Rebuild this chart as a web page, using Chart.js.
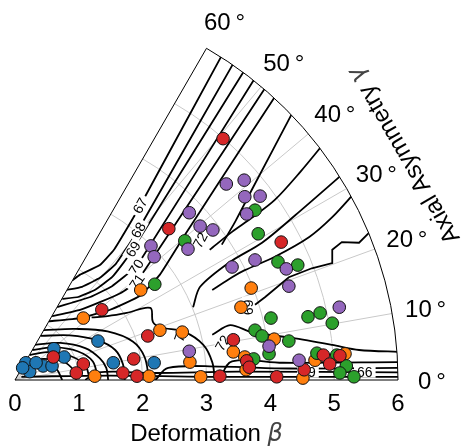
<!DOCTYPE html>
<html>
<head>
<meta charset="utf-8">
<script src="https://cdn.jsdelivr.net/npm/chart.js@4/dist/chart.umd.min.js"></script>
<style>
  html, body { margin: 0; padding: 0; background: #fff; }
  canvas { display: block; }
</style>
</head>
<body>
<canvas id="betaGamma" width="465" height="447"></canvas>
<script>
// tick values
const betaTicks = [0, 1, 2, 3, 4, 5, 6];
const gammaTicks = [0, 10, 20, 30, 40, 50, 60];

// nuclei in the beta-gamma plane, stored as (beta*cos(gamma), beta*sin(gamma))
const bluePts = [[1.30,0.61],[0.61,0.49],[0.77,0.36],[0.17,0.27],[0.23,0.13],[0.44,0.22],[0.58,0.22],[0.33,0.27],[1.54,0.27],[2.18,0.27],[0.12,0.19]];
const orangePts = [[1.07,0.97],[1.97,1.41],[2.27,0.78],[2.62,0.75],[2.74,0.28],[1.25,0.06],[2.10,0.06],[2.91,0.05],[3.70,1.44],[3.54,1.14],[3.42,0.44],[3.60,0.36],[3.62,0.16],[4.06,0.64],[4.70,0.31],[5.17,0.41],[4.51,0.03]];
const greenPts = [[2.19,1.50],[2.66,2.18],[3.76,2.66],[3.81,2.29],[4.12,1.85],[4.43,1.80],[4.01,0.97],[4.59,0.99],[4.78,1.05],[4.97,0.89],[3.76,0.78],[3.87,0.69],[4.29,0.61],[3.98,0.41],[3.74,0.33],[4.73,0.42],[5.04,0.39],[5.19,0.22],[5.09,0.11],[5.31,0.05]];
const redPts = [[3.26,3.78],[2.41,2.37],[4.17,2.16],[1.36,1.10],[2.08,0.69],[0.60,0.36],[1.07,0.25],[0.96,0.11],[1.86,0.33],[1.69,0.11],[1.91,0.06],[3.21,0.06],[3.42,0.63],[3.63,0.30],[3.67,0.20],[4.10,0.05],[4.53,0.16],[4.83,0.39],[4.93,0.25],[5.09,0.38]];
const purplePts = [[2.73,2.62],[2.90,2.41],[3.10,2.35],[2.13,2.10],[2.18,1.93],[2.71,2.05],[3.31,3.07],[3.59,3.13],[3.84,2.88],[3.60,2.87],[3.63,2.60],[3.76,1.88],[3.40,1.77],[4.25,1.74],[4.29,1.47],[5.08,1.14],[3.98,0.53],[4.45,0.31],[2.73,0.45]];

// energy contours, same coordinates
const upperLevels = [
  [[0.90,1.56],[1.02,1.65],[1.33,1.80],[1.55,2.04],[1.74,2.35],[1.96,2.73],[3.27,5.14]],
  [[0.81,1.41],[1.05,1.46],[1.33,1.60],[1.58,1.82],[1.77,2.10],[1.93,2.35],[3.45,5.01]],
  [[0.74,1.27],[0.99,1.30],[1.25,1.41],[1.52,1.61],[1.71,1.85],[1.85,2.05],[3.62,4.89]],
  [[0.66,1.14],[0.89,1.21],[1.18,1.30],[1.52,1.47],[1.75,1.65],[1.90,1.77],[3.78,4.76]],
  [[0.58,1.00],[1.02,1.10],[1.33,1.22],[1.65,1.36],[1.91,1.54],[3.95,4.62]],
  [[0.53,0.92],[1.02,0.97],[1.49,1.10],[1.96,1.32],[2.27,1.65],[2.66,2.27],[3.12,2.98],[4.10,4.48]],
  [[3.24,2.12],[3.45,2.48],[3.71,2.98],[4.37,4.23]]
];
const midLevels = [
  [[3.05,2.04],[3.40,2.32],[3.71,2.54],[4.07,2.82],[4.47,3.26],[4.85,3.72]],
  [[2.79,1.14],[2.90,1.46],[3.37,1.85],[3.87,2.15],[4.39,2.58],[5.15,3.24]],
  [[3.09,1.41],[3.40,1.61],[3.60,1.72],[4.07,1.93],[4.61,2.24],[4.97,2.55],[5.32,2.93]],
  [[3.09,0.71],[3.37,0.86],[3.71,0.75],[4.34,0.66],[4.97,0.55],[5.39,0.47],[6.05,0.44]]
];
const ridgeLevel = [[3.76,1.18],[3.92,1.30],[4.29,1.61],[4.65,1.75],[4.97,1.83],[4.97,2.04],[5.12,2.16],[5.39,2.15],[5.56,2.32],[5.72,2.44]];
const lowLoops = [
  [[0.11,0.19],[0.39,0.23],[0.63,0.19],[0.74,0.0]],
  [[0.17,0.29],[0.45,0.33],[0.75,0.29],[0.92,0.15],[0.96,0.0]],
  [[0.23,0.39],[0.55,0.44],[0.86,0.38],[1.10,0.23],[1.17,0.0]],
  [[0.27,0.47],[0.63,0.51],[0.98,0.45],[1.22,0.29],[1.30,0.0]],
  [[0.31,0.55],[0.71,0.58],[1.10,0.50],[1.33,0.34],[1.43,0.19],[1.46,0.0]],
  [[0.40,0.69],[0.86,0.70],[1.30,0.62],[1.57,0.47],[1.69,0.25],[1.72,0.0]],
  [[0.45,0.78],[0.95,0.80],[1.45,0.76],[1.85,0.60],[2.03,0.36],[2.10,0.0]],
  [[1.20,0.98],[1.45,1.00],[1.75,1.05],[2.12,1.13],[2.16,0.91],[2.27,0.83],[2.66,0.75],[2.95,0.55],[3.09,0.28],[3.13,0.0]]
];
const baseLevels = [
  [[0.10,0.05],[1.5,0.07],[3.0,0.05],[6.05,0.05]],
  [[1.10,0.0],[1.3,0.12],[2.2,0.11],[3.5,0.13],[6.05,0.12]],
  [[2.20,0.0],[2.4,0.19],[3.2,0.21],[4.3,0.18],[6.05,0.19]],
  [[3.20,0.0],[3.4,0.29],[4.2,0.27],[6.05,0.28]]
];
// inline contour labels: text, position, rotation (deg)
const contourTags = [
  ['67', 1.96, 2.73, -61], ['68', 1.93, 2.35, -60], ['69', 1.85, 2.05, -58],
  ['70', 1.90, 1.77, -57], ['71', 1.91, 1.54, -56], ['72', 2.90, 2.19, -62],
  ['72', 2.60, 0.72, -70], ['72', 3.25, 0.58, -60], ['69', 3.65, 1.14, 90],
  ['69', 4.59, 0.13, 0], ['66', 5.48, 0.13, 0]
];

const FONT = '"Liberation Sans", Arial, sans-serif';
let tagsDrawn = false;

function wedgePath(ctx, ox, oy, R) {
  ctx.beginPath();
  ctx.moveTo(ox, oy);
  ctx.lineTo(ox + R, oy);
  ctx.arc(ox, oy, R, 0, -Math.PI / 3, true);
  ctx.closePath();
}

function geom(chart) {
  const { x, y } = chart.scales;
  const ox = x.getPixelForValue(0), oy = y.getPixelForValue(0);
  const unit = x.getPixelForValue(1) - ox;
  return { ox, oy, unit, R: unit * betaTicks[betaTicks.length - 1] };
}

function polar(g, r, deg) {
  const a = deg * Math.PI / 180;
  return [g.ox + r * g.unit * Math.cos(a), g.oy - r * g.unit * Math.sin(a)];
}

const wedgePlugin = {
  id: 'wedge',
  beforeDatasetsDraw(chart) {
    const ctx = chart.ctx, g = geom(chart);
    ctx.save();
    ctx.strokeStyle = '#c9c9c9';
    ctx.lineWidth = 1;
    betaTicks.slice(1, -1).forEach(b => {
      ctx.beginPath();
      ctx.arc(g.ox, g.oy, b * g.unit, -Math.PI / 3, 0);
      ctx.stroke();
    });
    gammaTicks.slice(1, -1).forEach(d => {
      const [px, py] = polar(g, 6, d);
      ctx.beginPath();
      ctx.moveTo(g.ox, g.oy);
      ctx.lineTo(px, py);
      ctx.stroke();
    });
    ctx.restore();
    tagsDrawn = false;
  },
  beforeDatasetDraw(chart, args) {
    const ctx = chart.ctx, g = geom(chart);
    const ds = chart.data.datasets[args.index];
    if (ds.contour) {
      ctx.save();
      wedgePath(ctx, g.ox, g.oy, g.R);
      ctx.clip();
    } else if (!tagsDrawn) {
      tagsDrawn = true;
      // contour labels sit in small breaks of their lines
      ctx.save();
      ctx.font = '14px ' + FONT;
      ctx.textAlign = 'center';
      ctx.textBaseline = 'middle';
      contourTags.forEach(([t, cx, cy, rot]) => {
        const px = chart.scales.x.getPixelForValue(cx);
        const py = chart.scales.y.getPixelForValue(cy);
        const w = ctx.measureText(t).width;
        ctx.save();
        ctx.translate(px, py);
        ctx.rotate(rot * Math.PI / 180);
        ctx.fillStyle = '#fff';
        ctx.fillRect(-w / 2 - 3, -6, w + 6, 12);
        ctx.fillStyle = '#000';
        ctx.fillText(t, 0, 1);
        ctx.restore();
      });
      ctx.strokeStyle = '#000';
      ctx.lineWidth = 1;
      wedgePath(ctx, g.ox, g.oy, g.R);
      ctx.stroke();
      ctx.restore();
    }
  },
  afterDatasetDraw(chart, args) {
    if (chart.data.datasets[args.index].contour) chart.ctx.restore();
  },
  afterDraw(chart) {
    const ctx = chart.ctx, g = geom(chart);
    ctx.save();
    ctx.fillStyle = '#000';
    ctx.font = '24px ' + FONT;
    ctx.textAlign = 'center';
    ctx.textBaseline = 'alphabetic';
    betaTicks.forEach(b => {
      ctx.fillText(String(b), chart.scales.x.getPixelForValue(b), g.oy + 31);
    });
    gammaTicks.forEach(d => {
      const [px, py] = polar(g, 6.5, d);
      ctx.fillText(d + '\u2009\u00b0', px + 2, py + 9);
    });

    // x title
    const main = 'Deformation ', sym = '\u03b2';
    ctx.font = '24px ' + FONT;
    const w1 = ctx.measureText(main).width;
    ctx.font = 'italic 24px "DejaVu Sans"';
    const w2 = ctx.measureText(sym).width;
    let sx = chart.scales.x.getPixelForValue(3) - (w1 + w2) / 2;
    ctx.textAlign = 'left';
    ctx.font = '24px ' + FONT;
    ctx.fillText(main, sx, g.oy + 61);
    ctx.font = 'italic 24px "DejaVu Sans"';
    ctx.fillStyle = '#444';
    ctx.fillText(sym, sx + w1, g.oy + 61);

    // gamma title, tangent to the arc at 30 degrees
    const [tx, ty] = polar(g, 7.05, 30);
    ctx.translate(tx, ty);
    ctx.rotate(-120 * Math.PI / 180);
    const m2 = 'Axial Asymmetry ', s2 = '\u03b3';
    ctx.font = '24px ' + FONT;
    const a1 = ctx.measureText(m2).width;
    ctx.font = 'italic 24px "DejaVu Sans"';
    const a2 = ctx.measureText(s2).width;
    ctx.textBaseline = 'middle';
    ctx.font = '24px ' + FONT;
    ctx.fillStyle = '#000';
    ctx.fillText(m2, -(a1 + a2) / 2, 0);
    ctx.font = 'italic 24px "DejaVu Sans"';
    ctx.fillStyle = '#444';
    ctx.fillText(s2, -(a1 + a2) / 2 + a1, 0);
    ctx.restore();
  }
};

const toXY = pts => pts.map(([x, y]) => ({ x, y }));

function contourSet(lines, tension) {
  return lines.map(l => ({
    data: toXY(l),
    contour: true,
    showLine: true,
    pointRadius: 0,
    borderColor: '#000',
    borderWidth: 1.8,
    tension,
    clip: false,
    order: 10
  }));
}

function pointSet(pts, color, order) {
  return {
    data: toXY(pts),
    backgroundColor: color,
    borderColor: '#111',
    borderWidth: 1,
    pointRadius: 6.3,
    clip: false,
    order
  };
}

new Chart(document.getElementById('betaGamma'), {
  type: 'scatter',
  data: {
    datasets: [
      pointSet(purplePts, '#9467bd', 0),
      pointSet(redPts, '#d62728', 1),
      pointSet(greenPts, '#2ca02c', 2),
      pointSet(orangePts, '#ff7f0e', 3),
      pointSet(bluePts, '#1f77b4', 4),
      ...contourSet(upperLevels, 0.12),
      ...contourSet(midLevels, 0.3),
      ...contourSet([ridgeLevel], 0),
      ...contourSet(lowLoops, 0.35),
      ...contourSet(baseLevels, 0.35)
    ]
  },
  options: {
    responsive: false,
    devicePixelRatio: 1,
    animation: false,
    events: [],
    layout: { padding: { left: 15, right: 67, top: 48, bottom: 67 } },
    scales: {
      x: { type: 'linear', min: 0, max: 6, display: false },
      y: { type: 'linear', min: 0, max: 5.2, display: false }
    },
    plugins: { legend: { display: false }, tooltip: { enabled: false } }
  },
  plugins: [wedgePlugin]
});
</script>
</body>
</html>
